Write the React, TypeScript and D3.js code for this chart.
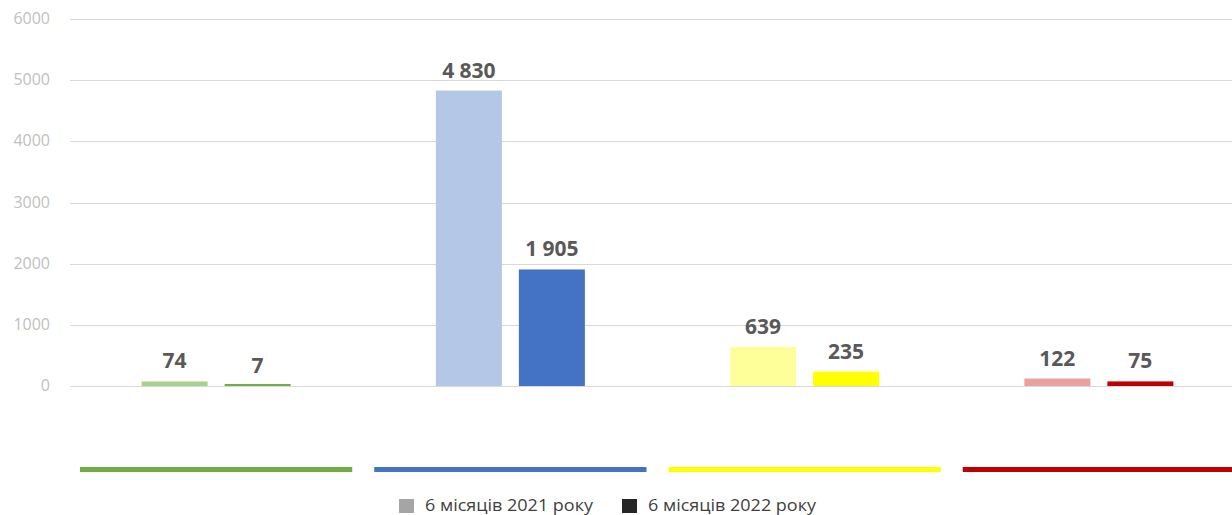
import React, { useEffect, useRef } from 'react';
import * as d3 from 'd3';

// categories and series values
const categories = ['A', 'B', 'C', 'D'];
const values2021 = [74, 4830, 639, 122];
const values2022 = [7, 1905, 235, 75];
const yTicks = [0, 1000, 2000, 3000, 4000, 5000, 6000];
const seriesNames = ['6 місяців 2021 року', '6 місяців 2022 року'];
const lightColors = ['#a9d18e', '#b4c7e7', '#ffff99', '#e8a0a0'];
const darkColors = ['#70ad47', '#4472c4', '#ffff00', '#c00000'];
const legendColors = ['#a5a5a5', '#262626'];

const W = 1232, H = 515;

export default function App() {
  const ref = useRef<SVGSVGElement>(null);

  useEffect(() => {
    const svg = d3.select(ref.current);
    svg.selectAll('*').remove();

    const margin = { left: 69, right: -14, top: 19, bottom: 129 };
    const y = d3.scaleLinear().domain([0, 6000]).range([H - margin.bottom, margin.top]);
    const x = d3.scaleBand().domain(categories).range([margin.left, W - margin.right]);

    // gridlines
    svg.append('g')
      .selectAll('line')
      .data(yTicks)
      .enter().append('line')
      .attr('x1', 70).attr('x2', W)
      .attr('y1', d => Math.round(y(d)) + 0.5).attr('y2', d => Math.round(y(d)) + 0.5)
      .attr('stroke', '#d9d9d9').attr('stroke-width', 1);

    svg.append('g')
      .selectAll('text')
      .data(yTicks)
      .enter().append('text')
      .attr('x', 50).attr('y', d => y(d) + 5)
      .attr('text-anchor', 'end')
      .attr('font-family', 'Open Sans, sans-serif')
      .attr('font-size', 16)
      .attr('fill', '#bfbfbf')
      .text(d => d);

    const barW = 66, gap = 17;
    const fmt = (v: number) => d3.format(',')(v).replace(/,/g, ' ');

    const series = [values2021, values2022];
    series.forEach((vals, si) => {
      const g = svg.append('g');
      const bx = (c: string) => x(c)! + x.bandwidth() / 2 + (si === 0 ? -gap / 2 - barW : gap / 2);
      g.selectAll('rect')
        .data(categories)
        .enter().append('rect')
        .attr('x', c => bx(c))
        .attr('y', (c, i) => Math.min(y(vals[i]), y(0) - 2))
        .attr('width', barW)
        .attr('height', (c, i) => Math.max(2, y(0) - y(vals[i])))
        .attr('fill', (c, i) => (si === 0 ? lightColors[i] : darkColors[i]));
      g.selectAll('text')
        .data(categories)
        .enter().append('text')
        .attr('x', c => bx(c) + barW / 2)
        .attr('y', (c, i) => y(vals[i]) - 13)
        .attr('text-anchor', 'middle')
        .attr('font-family', 'Open Sans, sans-serif')
        .attr('font-weight', 'bold')
        .attr('font-size', 21)
        .attr('fill', '#595959')
        .text((c, i) => fmt(vals[i]));
    });

    // colored category lines
    svg.append('g')
      .selectAll('rect')
      .data(categories)
      .enter().append('rect')
      .attr('x', c => x(c)! + 11)
      .attr('y', 467)
      .attr('width', x.bandwidth() - 22)
      .attr('height', 5)
      .attr('fill', (c, i) => darkColors[i]);

    // legend
    const legend = svg.append('g').attr('font-family', 'Open Sans, sans-serif');
    const lx = [399, 622];
    seriesNames.forEach((name, i) => {
      legend.append('rect')
        .attr('x', lx[i]).attr('y', 499).attr('width', 15).attr('height', 14)
        .attr('fill', legendColors[i]);
      legend.append('text')
        .attr('x', lx[i] + 26).attr('y', 511)
        .attr('font-size', 17)
        .attr('textLength', 168)
        .attr('lengthAdjust', 'spacingAndGlyphs')
        .attr('fill', '#404040')
        .text(name);
    });
  }, []);

  return (
    <svg ref={ref} width={W} height={H}
      style={{ position: 'absolute', left: 0, top: 0, background: '#fff' }} />
  );
}
